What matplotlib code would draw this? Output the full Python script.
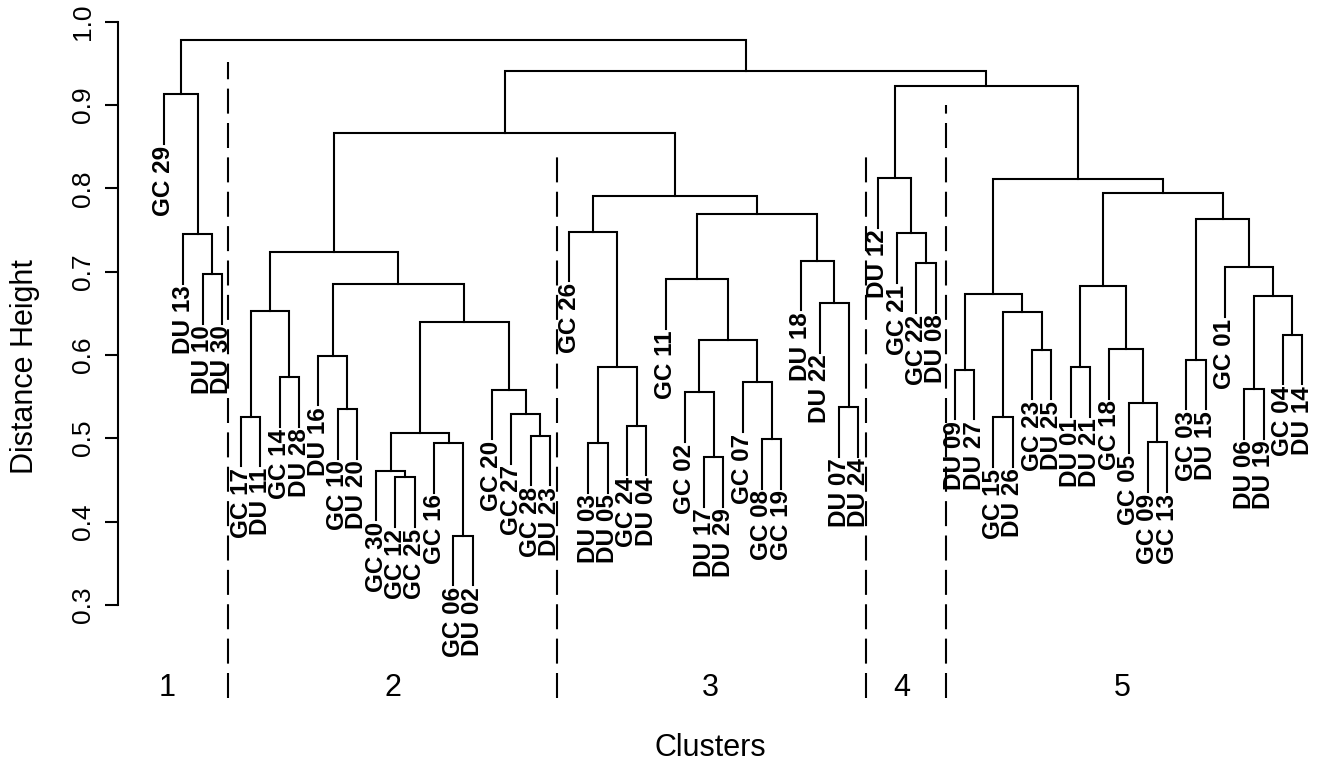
import matplotlib
matplotlib.use("Agg")
import matplotlib.pyplot as plt

plt.rcParams['font.family'] = ['Liberation Sans', 'DejaVu Sans']

# merges, hclust style: each child is a leaf name or the index of an earlier merge
merges = [
    ('DU 10', 'DU 30', 0.697), ('DU 13', 0, 0.745), ('GC 29', 1, 0.913),
    ('GC 17', 'DU 11', 0.526), ('GC 14', 'DU 28', 0.573), (3, 4, 0.653),
    ('GC 10', 'DU 20', 0.535), ('DU 16', 6, 0.599),
    ('GC 12', 'GC 25', 0.453), ('GC 30', 8, 0.461),
    ('GC 06', 'DU 02', 0.383), ('GC 16', 10, 0.494), (9, 11, 0.506),
    ('GC 28', 'DU 23', 0.503), ('GC 27', 13, 0.529), ('GC 20', 14, 0.558),
    (12, 15, 0.640), (7, 16, 0.685), (5, 17, 0.723),
    ('DU 03', 'DU 05', 0.494), ('GC 24', 'DU 04', 0.515), (19, 20, 0.586),
    ('GC 26', 21, 0.748),
    ('DU 17', 'DU 29', 0.477), ('GC 02', 23, 0.555),
    ('GC 08', 'GC 19', 0.499), ('GC 07', 25, 0.567), (24, 26, 0.618),
    ('GC 11', 27, 0.691),
    ('DU 07', 'DU 24', 0.537), ('DU 22', 29, 0.662), ('DU 18', 30, 0.713),
    (28, 31, 0.769), (22, 32, 0.791), (18, 33, 0.866),
    ('GC 22', 'DU 08', 0.710), ('GC 21', 35, 0.746), ('DU 12', 36, 0.812),
    ('DU 09', 'DU 27', 0.582), ('GC 15', 'DU 26', 0.525),
    ('GC 23', 'DU 25', 0.606), (39, 40, 0.651), (38, 41, 0.673),
    ('DU 01', 'DU 21', 0.585), ('GC 09', 'GC 13', 0.495), ('GC 05', 44, 0.542),
    ('GC 18', 45, 0.607), (43, 46, 0.683),
    ('GC 03', 'DU 15', 0.594), ('DU 06', 'DU 19', 0.559),
    ('GC 04', 'DU 14', 0.624), (49, 50, 0.671), ('GC 01', 51, 0.705),
    (48, 52, 0.763), (47, 53, 0.794), (42, 54, 0.811),
    (37, 55, 0.923), (34, 56, 0.941), (2, 57, 0.978),
]

cluster_names = ['1', '2', '3', '4', '5']
cluster_label_x = [1.16, 12.87, 29.3, 39.26, 50.66]
cut_x = [4.32, 21.37, 37.39, 41.54]
cut_top = [0.952, 0.846, 0.846, 0.900]

yticks = [0.3, 0.4, 0.5, 0.6, 0.7, 0.8, 0.9, 1.0]

heights = [m[2] for m in merges]
hang = 0.1 * (max(heights) - min(heights))

# leaf order from the tree, left to right
order = []
def walk(node):
    if isinstance(node, str):
        order.append(node)
    else:
        walk(merges[node][0])
        walk(merges[node][1])
walk(len(merges) - 1)
xpos = {name: i + 1 for i, name in enumerate(order)}

fig = plt.figure(figsize=(13.2, 7.64), dpi=100)
ax = fig.add_axes([118 / 1320, 0, 1 - 118 / 1320, 1])
ax.set_xlim((118 - 164) / 19.29 + 1, (1320 - 164) / 19.29 + 1)
ax.set_ylim(1 - (764 - 21.7) / 833, 1 + 21.7 / 833)

mx = []
lw = 1.5
for a, b, h in merges:
    xs, ys = [], []
    for c in (a, b):
        if isinstance(c, str):
            x = xpos[c]
            y = h - hang
            ax.text(x, y - 0.002, c, rotation=90, ha='center', va='top',
                    fontsize=17.5, fontweight='bold')
        else:
            x = mx[c]
            y = merges[c][2]
        xs.append(x)
        ys.append(y)
    ax.plot([xs[0], xs[0], xs[1], xs[1]], [ys[0], h, h, ys[1]],
            color='black', lw=lw, solid_joinstyle='miter')
    mx.append((xs[0] + xs[1]) / 2)

bottom = 1 - (698 - 21.7) / 833
for x, top in zip(cut_x, cut_top):
    ax.plot([x, x], [bottom, top], color='black', lw=1.5, dashes=(12, 4.5))

for x, name in zip(cluster_label_x, cluster_names):
    ax.text(x, 1 - (688 - 21.7) / 833, name, ha='center', va='center', fontsize=22)

for s in ['top', 'right', 'bottom']:
    ax.spines[s].set_visible(False)
ax.spines['left'].set_bounds(0.3, 1.0)
ax.spines['left'].set_linewidth(1.5)
ax.set_xticks([])
ax.set_yticks(yticks, [f'{t:.1f}' for t in yticks])
ax.tick_params(axis='y', length=9.4, width=1.5, pad=16, labelsize=19,
               labelrotation=90)
plt.setp(ax.get_yticklabels(), ha='center', va='center')

fig.text(25 / 1320, 1 - 367 / 764, 'Distance Height', rotation=90,
         ha='center', va='center', fontsize=22)
fig.text(710 / 1320, 1 - 748 / 764, 'Clusters', ha='center', va='center', fontsize=22)

fig.savefig('out.png', dpi=100)
